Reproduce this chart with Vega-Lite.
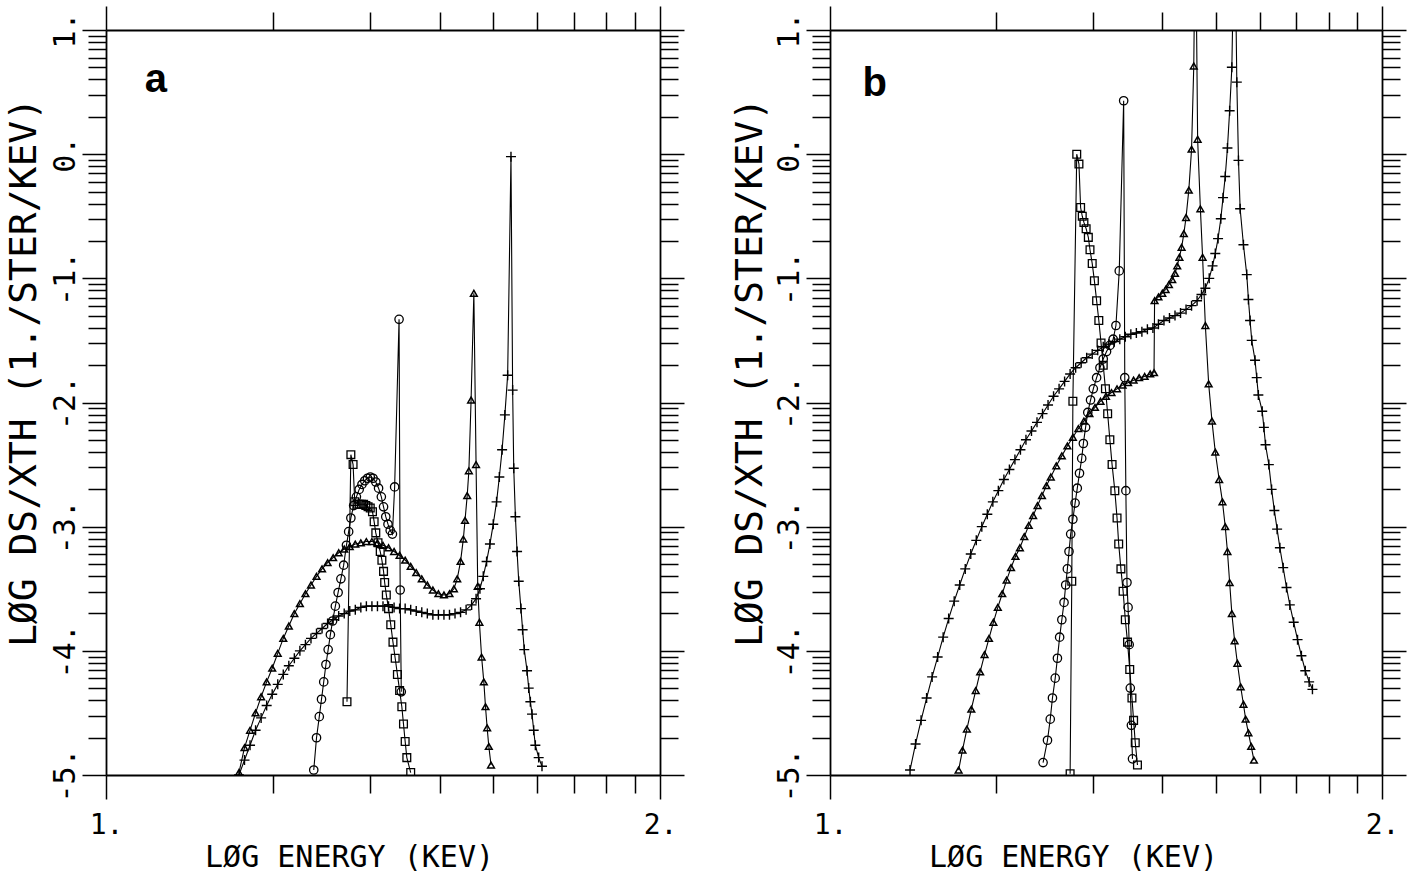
{
"$schema": "https://vega.github.io/schema/vega-lite/v6.json",
"padding": {"left": 4, "top": 5, "right": 0, "bottom": 0},
"spacing": 45,
"config": {
 "view": {"stroke": null},
 "axis": {"domainColor": "black", "tickColor": "black", "domainWidth": 1.8, "tickWidth": 1.5, "grid": false, "labelFont": "DejaVu Sans Mono", "labelFontSize": 28, "labelColor": "black", "titleFont": "DejaVu Sans Mono", "titleFontWeight": "normal", "titleColor": "black", "labelFlush": false, "labelOverlap": false}
},
"datasets": {
 "a": [
  {"s":"p","x":1.240,"y":-5.00},{"s":"p","x":1.250,"y":-4.88},{"s":"p","x":1.260,"y":-4.76},{"s":"p","x":1.270,"y":-4.64},{"s":"p","x":1.280,"y":-4.54},{"s":"p","x":1.290,"y":-4.44},{"s":"p","x":1.300,"y":-4.35},{"s":"p","x":1.310,"y":-4.27},{"s":"p","x":1.320,"y":-4.19},{"s":"p","x":1.330,"y":-4.12},{"s":"p","x":1.340,"y":-4.06},{"s":"p","x":1.350,"y":-4.00},{"s":"p","x":1.360,"y":-3.95},{"s":"p","x":1.370,"y":-3.90},{"s":"p","x":1.380,"y":-3.86},{"s":"p","x":1.390,"y":-3.82},{"s":"p","x":1.400,"y":-3.78},{"s":"p","x":1.410,"y":-3.75},{"s":"p","x":1.420,"y":-3.72},{"s":"p","x":1.430,"y":-3.70},{"s":"p","x":1.440,"y":-3.68},{"s":"p","x":1.450,"y":-3.67},{"s":"p","x":1.460,"y":-3.65},{"s":"p","x":1.470,"y":-3.64},{"s":"p","x":1.480,"y":-3.64},{"s":"p","x":1.490,"y":-3.64},{"s":"p","x":1.500,"y":-3.64},{"s":"p","x":1.510,"y":-3.64},{"s":"p","x":1.520,"y":-3.65},{"s":"p","x":1.530,"y":-3.66},{"s":"p","x":1.540,"y":-3.66},{"s":"p","x":1.550,"y":-3.67},{"s":"p","x":1.560,"y":-3.68},{"s":"p","x":1.570,"y":-3.69},{"s":"p","x":1.580,"y":-3.70},{"s":"p","x":1.590,"y":-3.71},{"s":"p","x":1.600,"y":-3.71},{"s":"p","x":1.610,"y":-3.71},{"s":"p","x":1.620,"y":-3.71},{"s":"p","x":1.630,"y":-3.70},{"s":"p","x":1.640,"y":-3.69},{"s":"p","x":1.650,"y":-3.67},{"s":"p","x":1.660,"y":-3.63},{"s":"p","x":1.668,"y":-3.58},{"s":"p","x":1.675,"y":-3.50},{"s":"p","x":1.681,"y":-3.40},{"s":"p","x":1.687,"y":-3.28},{"s":"p","x":1.693,"y":-3.14},{"s":"p","x":1.699,"y":-2.98},{"s":"p","x":1.705,"y":-2.80},{"s":"p","x":1.710,"y":-2.60},{"s":"p","x":1.715,"y":-2.38},{"s":"p","x":1.720,"y":-2.10},{"s":"p","x":1.725,"y":-1.78},{"s":"p","x":1.731,"y":-0.02},{"s":"p","x":1.734,"y":-1.90},{"s":"p","x":1.736,"y":-2.53},{"s":"p","x":1.739,"y":-2.92},{"s":"p","x":1.742,"y":-3.20},{"s":"p","x":1.745,"y":-3.44},{"s":"p","x":1.749,"y":-3.66},{"s":"p","x":1.752,"y":-3.83},{"s":"p","x":1.755,"y":-3.99},{"s":"p","x":1.760,"y":-4.16},{"s":"p","x":1.763,"y":-4.30},{"s":"p","x":1.766,"y":-4.41},{"s":"p","x":1.769,"y":-4.51},{"s":"p","x":1.772,"y":-4.64},{"s":"p","x":1.775,"y":-4.76},{"s":"p","x":1.781,"y":-4.86},{"s":"p","x":1.787,"y":-4.93},
  {"s":"t","x":1.240,"y":-4.98},{"s":"t","x":1.250,"y":-4.78},{"s":"t","x":1.260,"y":-4.64},{"s":"t","x":1.270,"y":-4.50},{"s":"t","x":1.280,"y":-4.37},{"s":"t","x":1.290,"y":-4.25},{"s":"t","x":1.300,"y":-4.14},{"s":"t","x":1.310,"y":-4.02},{"s":"t","x":1.320,"y":-3.90},{"s":"t","x":1.330,"y":-3.80},{"s":"t","x":1.340,"y":-3.70},{"s":"t","x":1.350,"y":-3.62},{"s":"t","x":1.360,"y":-3.54},{"s":"t","x":1.370,"y":-3.47},{"s":"t","x":1.380,"y":-3.40},{"s":"t","x":1.390,"y":-3.34},{"s":"t","x":1.400,"y":-3.29},{"s":"t","x":1.410,"y":-3.25},{"s":"t","x":1.420,"y":-3.21},{"s":"t","x":1.430,"y":-3.18},{"s":"t","x":1.440,"y":-3.16},{"s":"t","x":1.450,"y":-3.14},{"s":"t","x":1.460,"y":-3.13},{"s":"t","x":1.470,"y":-3.12},{"s":"t","x":1.480,"y":-3.12},{"s":"t","x":1.490,"y":-3.13},{"s":"t","x":1.500,"y":-3.15},{"s":"t","x":1.510,"y":-3.17},{"s":"t","x":1.520,"y":-3.20},{"s":"t","x":1.530,"y":-3.23},{"s":"t","x":1.540,"y":-3.27},{"s":"t","x":1.550,"y":-3.32},{"s":"t","x":1.560,"y":-3.37},{"s":"t","x":1.570,"y":-3.42},{"s":"t","x":1.580,"y":-3.47},{"s":"t","x":1.590,"y":-3.51},{"s":"t","x":1.600,"y":-3.54},{"s":"t","x":1.610,"y":-3.55},{"s":"t","x":1.620,"y":-3.54},{"s":"t","x":1.628,"y":-3.50},{"s":"t","x":1.634,"y":-3.42},{"s":"t","x":1.640,"y":-3.28},{"s":"t","x":1.645,"y":-3.10},{"s":"t","x":1.648,"y":-2.95},{"s":"t","x":1.652,"y":-2.75},{"s":"t","x":1.655,"y":-2.55},{"s":"t","x":1.659,"y":-1.98},{"s":"t","x":1.664,"y":-1.12},{"s":"t","x":1.668,"y":-2.50},{"s":"t","x":1.671,"y":-3.48},{"s":"t","x":1.674,"y":-3.77},{"s":"t","x":1.678,"y":-4.05},{"s":"t","x":1.682,"y":-4.25},{"s":"t","x":1.685,"y":-4.45},{"s":"t","x":1.688,"y":-4.62},{"s":"t","x":1.691,"y":-4.77},{"s":"t","x":1.695,"y":-4.92},
  {"s":"c","x":1.375,"y":-4.96},{"s":"c","x":1.380,"y":-4.70},{"s":"c","x":1.385,"y":-4.53},{"s":"c","x":1.389,"y":-4.39},{"s":"c","x":1.393,"y":-4.25},{"s":"c","x":1.397,"y":-4.11},{"s":"c","x":1.401,"y":-3.99},{"s":"c","x":1.405,"y":-3.87},{"s":"c","x":1.409,"y":-3.76},{"s":"c","x":1.414,"y":-3.64},{"s":"c","x":1.419,"y":-3.53},{"s":"c","x":1.424,"y":-3.42},{"s":"c","x":1.429,"y":-3.31},{"s":"c","x":1.434,"y":-3.15},{"s":"c","x":1.438,"y":-3.04},{"s":"c","x":1.442,"y":-2.93},{"s":"c","x":1.447,"y":-2.83},{"s":"c","x":1.452,"y":-2.76},{"s":"c","x":1.457,"y":-2.70},{"s":"c","x":1.462,"y":-2.66},{"s":"c","x":1.467,"y":-2.63},{"s":"c","x":1.472,"y":-2.61},{"s":"c","x":1.477,"y":-2.60},{"s":"c","x":1.482,"y":-2.61},{"s":"c","x":1.487,"y":-2.64},{"s":"c","x":1.492,"y":-2.69},{"s":"c","x":1.497,"y":-2.76},{"s":"c","x":1.501,"y":-2.84},{"s":"c","x":1.505,"y":-2.92},{"s":"c","x":1.509,"y":-2.98},{"s":"c","x":1.513,"y":-3.03},{"s":"c","x":1.517,"y":-3.06},{"s":"c","x":1.521,"y":-2.68},{"s":"c","x":1.529,"y":-1.33},{"s":"c","x":1.531,"y":-3.51},{"s":"c","x":1.533,"y":-4.33},
  {"s":"q","x":1.435,"y":-4.41},{"s":"q","x":1.442,"y":-2.42},{"s":"q","x":1.446,"y":-2.50},{"s":"q","x":1.449,"y":-2.80},{"s":"q","x":1.453,"y":-2.82},{"s":"q","x":1.457,"y":-2.82},{"s":"q","x":1.461,"y":-2.82},{"s":"q","x":1.465,"y":-2.82},{"s":"q","x":1.469,"y":-2.83},{"s":"q","x":1.473,"y":-2.84},{"s":"q","x":1.477,"y":-2.85},{"s":"q","x":1.481,"y":-2.88},{"s":"q","x":1.484,"y":-2.96},{"s":"q","x":1.487,"y":-3.05},{"s":"q","x":1.491,"y":-3.13},{"s":"q","x":1.495,"y":-3.20},{"s":"q","x":1.498,"y":-3.27},{"s":"q","x":1.501,"y":-3.36},{"s":"q","x":1.503,"y":-3.45},{"s":"q","x":1.506,"y":-3.55},{"s":"q","x":1.510,"y":-3.66},{"s":"q","x":1.514,"y":-3.79},{"s":"q","x":1.518,"y":-3.93},{"s":"q","x":1.522,"y":-4.06},{"s":"q","x":1.526,"y":-4.19},{"s":"q","x":1.530,"y":-4.32},{"s":"q","x":1.534,"y":-4.45},{"s":"q","x":1.537,"y":-4.59},{"s":"q","x":1.540,"y":-4.73},{"s":"q","x":1.543,"y":-4.86},{"s":"q","x":1.550,"y":-4.98}
 ],
 "b": [
  {"s":"p","x":1.145,"y":-4.96},{"s":"p","x":1.155,"y":-4.75},{"s":"p","x":1.165,"y":-4.56},{"s":"p","x":1.175,"y":-4.38},{"s":"p","x":1.185,"y":-4.21},{"s":"p","x":1.195,"y":-4.05},{"s":"p","x":1.205,"y":-3.89},{"s":"p","x":1.215,"y":-3.74},{"s":"p","x":1.225,"y":-3.60},{"s":"p","x":1.235,"y":-3.47},{"s":"p","x":1.245,"y":-3.34},{"s":"p","x":1.255,"y":-3.22},{"s":"p","x":1.265,"y":-3.11},{"s":"p","x":1.275,"y":-3.00},{"s":"p","x":1.285,"y":-2.90},{"s":"p","x":1.295,"y":-2.80},{"s":"p","x":1.305,"y":-2.71},{"s":"p","x":1.315,"y":-2.62},{"s":"p","x":1.325,"y":-2.54},{"s":"p","x":1.335,"y":-2.46},{"s":"p","x":1.345,"y":-2.38},{"s":"p","x":1.355,"y":-2.30},{"s":"p","x":1.365,"y":-2.23},{"s":"p","x":1.375,"y":-2.16},{"s":"p","x":1.385,"y":-2.09},{"s":"p","x":1.395,"y":-2.02},{"s":"p","x":1.405,"y":-1.95},{"s":"p","x":1.415,"y":-1.89},{"s":"p","x":1.425,"y":-1.83},{"s":"p","x":1.435,"y":-1.77},{"s":"p","x":1.445,"y":-1.72},{"s":"p","x":1.455,"y":-1.68},{"s":"p","x":1.465,"y":-1.64},{"s":"p","x":1.475,"y":-1.61},{"s":"p","x":1.485,"y":-1.58},{"s":"p","x":1.495,"y":-1.55},{"s":"p","x":1.505,"y":-1.53},{"s":"p","x":1.515,"y":-1.51},{"s":"p","x":1.525,"y":-1.49},{"s":"p","x":1.535,"y":-1.47},{"s":"p","x":1.545,"y":-1.45},{"s":"p","x":1.555,"y":-1.44},{"s":"p","x":1.565,"y":-1.43},{"s":"p","x":1.575,"y":-1.41},{"s":"p","x":1.585,"y":-1.40},{"s":"p","x":1.595,"y":-1.37},{"s":"p","x":1.605,"y":-1.34},{"s":"p","x":1.615,"y":-1.32},{"s":"p","x":1.625,"y":-1.30},{"s":"p","x":1.635,"y":-1.28},{"s":"p","x":1.645,"y":-1.25},{"s":"p","x":1.655,"y":-1.22},{"s":"p","x":1.665,"y":-1.18},{"s":"p","x":1.673,"y":-1.13},{"s":"p","x":1.680,"y":-1.08},{"s":"p","x":1.687,"y":-1.00},{"s":"p","x":1.693,"y":-0.90},{"s":"p","x":1.698,"y":-0.80},{"s":"p","x":1.703,"y":-0.68},{"s":"p","x":1.708,"y":-0.52},{"s":"p","x":1.712,"y":-0.35},{"s":"p","x":1.716,"y":-0.18},{"s":"p","x":1.720,"y":0.05},{"s":"p","x":1.724,"y":0.35},{"s":"p","x":1.728,"y":0.70},{"s":"p","x":1.733,"y":2.0},{"s":"p","x":1.737,"y":0.58},{"s":"p","x":1.740,"y":-0.05},{"s":"p","x":1.743,"y":-0.44},{"s":"p","x":1.749,"y":-0.73},{"s":"p","x":1.755,"y":-0.97},{"s":"p","x":1.758,"y":-1.17},{"s":"p","x":1.761,"y":-1.34},{"s":"p","x":1.764,"y":-1.50},{"s":"p","x":1.770,"y":-1.66},{"s":"p","x":1.773,"y":-1.80},{"s":"p","x":1.776,"y":-1.94},{"s":"p","x":1.783,"y":-2.07},{"s":"p","x":1.786,"y":-2.20},{"s":"p","x":1.789,"y":-2.34},{"s":"p","x":1.795,"y":-2.50},{"s":"p","x":1.800,"y":-2.70},{"s":"p","x":1.805,"y":-2.87},{"s":"p","x":1.810,"y":-3.02},{"s":"p","x":1.815,"y":-3.17},{"s":"p","x":1.821,"y":-3.33},{"s":"p","x":1.827,"y":-3.49},{"s":"p","x":1.833,"y":-3.63},{"s":"p","x":1.840,"y":-3.77},{"s":"p","x":1.847,"y":-3.91},{"s":"p","x":1.854,"y":-4.04},{"s":"p","x":1.861,"y":-4.16},{"s":"p","x":1.868,"y":-4.25},{"s":"p","x":1.874,"y":-4.31},
  {"s":"t","x":1.233,"y":-4.96},{"s":"t","x":1.240,"y":-4.80},{"s":"t","x":1.248,"y":-4.63},{"s":"t","x":1.256,"y":-4.47},{"s":"t","x":1.264,"y":-4.32},{"s":"t","x":1.272,"y":-4.17},{"s":"t","x":1.280,"y":-4.03},{"s":"t","x":1.288,"y":-3.90},{"s":"t","x":1.296,"y":-3.77},{"s":"t","x":1.304,"y":-3.65},{"s":"t","x":1.312,"y":-3.54},{"s":"t","x":1.320,"y":-3.43},{"s":"t","x":1.328,"y":-3.33},{"s":"t","x":1.336,"y":-3.24},{"s":"t","x":1.344,"y":-3.17},{"s":"t","x":1.352,"y":-3.08},{"s":"t","x":1.360,"y":-2.99},{"s":"t","x":1.368,"y":-2.91},{"s":"t","x":1.376,"y":-2.83},{"s":"t","x":1.384,"y":-2.75},{"s":"t","x":1.392,"y":-2.67},{"s":"t","x":1.400,"y":-2.60},{"s":"t","x":1.410,"y":-2.51},{"s":"t","x":1.420,"y":-2.43},{"s":"t","x":1.430,"y":-2.35},{"s":"t","x":1.440,"y":-2.28},{"s":"t","x":1.450,"y":-2.21},{"s":"t","x":1.460,"y":-2.15},{"s":"t","x":1.470,"y":-2.09},{"s":"t","x":1.480,"y":-2.04},{"s":"t","x":1.490,"y":-1.99},{"s":"t","x":1.500,"y":-1.95},{"s":"t","x":1.510,"y":-1.92},{"s":"t","x":1.520,"y":-1.89},{"s":"t","x":1.530,"y":-1.86},{"s":"t","x":1.540,"y":-1.84},{"s":"t","x":1.550,"y":-1.82},{"s":"t","x":1.560,"y":-1.80},{"s":"t","x":1.570,"y":-1.79},{"s":"t","x":1.580,"y":-1.77},{"s":"t","x":1.587,"y":-1.76},{"s":"t","x":1.588,"y":-1.18},{"s":"t","x":1.595,"y":-1.15},{"s":"t","x":1.602,"y":-1.12},{"s":"t","x":1.608,"y":-1.09},{"s":"t","x":1.614,"y":-1.05},{"s":"t","x":1.620,"y":-1.01},{"s":"t","x":1.625,"y":-0.96},{"s":"t","x":1.629,"y":-0.90},{"s":"t","x":1.633,"y":-0.83},{"s":"t","x":1.637,"y":-0.75},{"s":"t","x":1.641,"y":-0.64},{"s":"t","x":1.645,"y":-0.51},{"s":"t","x":1.650,"y":-0.29},{"s":"t","x":1.655,"y":0.04},{"s":"t","x":1.659,"y":0.71},{"s":"t","x":1.662,"y":2.0},{"s":"t","x":1.666,"y":0.12},{"s":"t","x":1.671,"y":-0.44},{"s":"t","x":1.675,"y":-0.83},{"s":"t","x":1.680,"y":-1.38},{"s":"t","x":1.686,"y":-1.85},{"s":"t","x":1.692,"y":-2.15},{"s":"t","x":1.698,"y":-2.40},{"s":"t","x":1.705,"y":-2.62},{"s":"t","x":1.711,"y":-2.80},{"s":"t","x":1.716,"y":-3.00},{"s":"t","x":1.720,"y":-3.20},{"s":"t","x":1.724,"y":-3.45},{"s":"t","x":1.728,"y":-3.70},{"s":"t","x":1.733,"y":-3.92},{"s":"t","x":1.738,"y":-4.10},{"s":"t","x":1.744,"y":-4.29},{"s":"t","x":1.749,"y":-4.43},{"s":"t","x":1.753,"y":-4.55},{"s":"t","x":1.758,"y":-4.66},{"s":"t","x":1.763,"y":-4.77},{"s":"t","x":1.768,"y":-4.88},
  {"s":"c","x":1.386,"y":-4.90},{"s":"c","x":1.394,"y":-4.72},{"s":"c","x":1.399,"y":-4.55},{"s":"c","x":1.403,"y":-4.38},{"s":"c","x":1.408,"y":-4.22},{"s":"c","x":1.412,"y":-4.06},{"s":"c","x":1.416,"y":-3.89},{"s":"c","x":1.420,"y":-3.75},{"s":"c","x":1.424,"y":-3.61},{"s":"c","x":1.427,"y":-3.47},{"s":"c","x":1.430,"y":-3.34},{"s":"c","x":1.433,"y":-3.20},{"s":"c","x":1.436,"y":-3.06},{"s":"c","x":1.440,"y":-2.94},{"s":"c","x":1.444,"y":-2.81},{"s":"c","x":1.448,"y":-2.69},{"s":"c","x":1.452,"y":-2.57},{"s":"c","x":1.456,"y":-2.45},{"s":"c","x":1.459,"y":-2.33},{"s":"c","x":1.463,"y":-2.20},{"s":"c","x":1.467,"y":-2.08},{"s":"c","x":1.472,"y":-1.98},{"s":"c","x":1.477,"y":-1.89},{"s":"c","x":1.483,"y":-1.80},{"s":"c","x":1.489,"y":-1.72},{"s":"c","x":1.495,"y":-1.65},{"s":"c","x":1.501,"y":-1.59},{"s":"c","x":1.507,"y":-1.54},{"s":"c","x":1.513,"y":-1.49},{"s":"c","x":1.518,"y":-1.38},{"s":"c","x":1.524,"y":-0.94},{"s":"c","x":1.532,"y":0.43},{"s":"c","x":1.534,"y":-1.80},{"s":"c","x":1.536,"y":-2.71},{"s":"c","x":1.538,"y":-3.45},{"s":"c","x":1.540,"y":-3.65},{"s":"c","x":1.542,"y":-3.95},{"s":"c","x":1.544,"y":-4.30},{"s":"c","x":1.546,"y":-4.60},{"s":"c","x":1.548,"y":-4.87},
  {"s":"q","x":1.435,"y":-4.99},{"s":"q","x":1.438,"y":-3.44},{"s":"q","x":1.440,"y":-1.99},{"s":"q","x":1.447,"y":0.00},{"s":"q","x":1.451,"y":-0.08},{"s":"q","x":1.454,"y":-0.43},{"s":"q","x":1.457,"y":-0.50},{"s":"q","x":1.460,"y":-0.55},{"s":"q","x":1.464,"y":-0.60},{"s":"q","x":1.468,"y":-0.67},{"s":"q","x":1.471,"y":-0.77},{"s":"q","x":1.475,"y":-0.88},{"s":"q","x":1.479,"y":-1.02},{"s":"q","x":1.483,"y":-1.18},{"s":"q","x":1.487,"y":-1.34},{"s":"q","x":1.491,"y":-1.52},{"s":"q","x":1.495,"y":-1.70},{"s":"q","x":1.499,"y":-1.89},{"s":"q","x":1.503,"y":-2.09},{"s":"q","x":1.507,"y":-2.30},{"s":"q","x":1.511,"y":-2.50},{"s":"q","x":1.516,"y":-2.71},{"s":"q","x":1.520,"y":-2.93},{"s":"q","x":1.523,"y":-3.14},{"s":"q","x":1.527,"y":-3.34},{"s":"q","x":1.531,"y":-3.52},{"s":"q","x":1.535,"y":-3.75},{"s":"q","x":1.539,"y":-3.93},{"s":"q","x":1.543,"y":-4.15},{"s":"q","x":1.547,"y":-4.38},{"s":"q","x":1.550,"y":-4.56},{"s":"q","x":1.553,"y":-4.74},{"s":"q","x":1.557,"y":-4.92}
 ]
},
"hconcat": [
 {
  "width": 554, "height": 745,
  "data": {"name": "a"},
  "resolve": {"axis": {"x": "independent", "y": "independent"}},
  "layer": [
   {
    "encoding": {
     "x": {"field": "x", "type": "quantitative", "scale": {"domain": [1, 2], "nice": false, "zero": false}, "axis": null},
     "y": {"field": "y", "type": "quantitative", "scale": {"domain": [-5, 1], "nice": false, "zero": false}, "axis": null}
    },
    "layer": [
     {"mark": {"type": "line", "color": "black", "strokeWidth": 1.1, "clip": true}, "encoding": {"detail": {"field": "s"}}},
     {"transform": [{"filter": "datum.s == 'p'"}], "mark": {"type": "point", "shape": "M-1,0H1M0,-1V1", "size": 100, "stroke": "black", "strokeWidth": 1.4, "filled": false, "opacity": 1, "clip": true}},
     {"transform": [{"filter": "datum.s == 't'"}], "mark": {"type": "point", "shape": "triangle-up", "size": 45, "stroke": "black", "strokeWidth": 1.5, "filled": false, "opacity": 1, "clip": true}},
     {"transform": [{"filter": "datum.s == 'c'"}], "mark": {"type": "point", "shape": "circle", "size": 70, "stroke": "black", "strokeWidth": 1.3, "filled": false, "opacity": 1, "clip": true}},
     {"transform": [{"filter": "datum.s == 'q'"}], "mark": {"type": "point", "shape": "square", "size": 60, "stroke": "black", "strokeWidth": 1.3, "filled": false, "opacity": 1, "clip": true}}
    ]
   },
   {"data": {"values": [{}]}, "mark": {"type": "text", "text": "a", "font": "Liberation Sans", "fontWeight": "bold", "fontSize": 40, "align": "center", "baseline": "alphabetic", "color": "black"},
    "encoding": {"x": {"datum": 1.09, "type": "quantitative", "scale": {"domain": [1, 2], "nice": false, "zero": false}, "axis": null}, "y": {"datum": 0.5, "type": "quantitative", "scale": {"domain": [-5, 1], "nice": false, "zero": false}, "axis": null}}},
   {"mark": {"type": "point", "opacity": 0, "clip": true},
    "encoding": {
     "x": {"field": "x", "type": "quantitative", "scale": {"domain": [1, 2], "nice": false, "zero": false}, "axis": {"orient": "bottom", "values": [1, 2], "tickSize": 24, "labelExpr": "datum.value + '.'", "labelPadding": 12, "labelBaseline": "top", "labelAlign": "center", "title": "LØG ENERGY (KEV)", "titleFontSize": 30, "titleX": 243, "titlePadding": 3, "titleAlign": "center", "domain": true}},
     "y": {"field": "y", "type": "quantitative", "scale": {"domain": [-5, 1], "nice": false, "zero": false}, "axis": {"orient": "left", "values": [-5, -4, -3, -2, -1, 0, 1], "tickSize": 24, "labelExpr": "datum.value + '.'", "labelFontSize": 30, "labelAngle": 270, "labelAlign": "center", "labelBaseline": "alphabetic", "labelPadding": 8, "title": "LØG DS/XTH (1./STER/KEV)", "titleFontSize": 38, "titleAngle": 270, "titleX": -71, "titleY": 342, "titleAlign": "center", "titleBaseline": "alphabetic", "domain": true}}
    }},
   {"mark": {"type": "point", "opacity": 0, "clip": true},
    "encoding": {
     "x": {"field": "x", "type": "quantitative", "scale": {"domain": [1, 2], "nice": false, "zero": false}, "axis": {"orient": "bottom", "values": [1.30103, 1.47712, 1.60206, 1.69897, 1.77815, 1.8451, 1.90309, 1.95424], "tickSize": 18, "labels": false, "domain": false, "title": null}},
     "y": {"field": "y", "type": "quantitative", "scale": {"domain": [-5, 1], "nice": false, "zero": false}, "axis": {"orient": "left", "values": [-4.69897, -4.52288, -4.39794, -4.30103, -4.22185, -4.1549, -4.09691, -4.04576, -3.69897, -3.52288, -3.39794, -3.30103, -3.22185, -3.1549, -3.09691, -3.04576, -2.69897, -2.52288, -2.39794, -2.30103, -2.22185, -2.1549, -2.09691, -2.04576, -1.69897, -1.52288, -1.39794, -1.30103, -1.22185, -1.1549, -1.09691, -1.04576, -0.69897, -0.52288, -0.39794, -0.30103, -0.22185, -0.1549, -0.09691, -0.04576, 0.30103, 0.47712, 0.60206, 0.69897, 0.77815, 0.8451, 0.90309, 0.95424], "tickSize": 18, "labels": false, "domain": false, "title": null}}
    }},
   {"mark": {"type": "point", "opacity": 0, "clip": true},
    "encoding": {
     "x": {"field": "x", "type": "quantitative", "scale": {"domain": [1, 2], "nice": false, "zero": false}, "axis": {"orient": "top", "values": [1, 2], "tickSize": 24, "labels": false, "domain": true, "title": null}},
     "y": {"field": "y", "type": "quantitative", "scale": {"domain": [-5, 1], "nice": false, "zero": false}, "axis": {"orient": "right", "values": [-5, -4, -3, -2, -1, 0, 1], "tickSize": 24, "labels": false, "domain": true, "title": null}}
    }},
   {"mark": {"type": "point", "opacity": 0, "clip": true},
    "encoding": {
     "x": {"field": "x", "type": "quantitative", "scale": {"domain": [1, 2], "nice": false, "zero": false}, "axis": {"orient": "top", "values": [1.30103, 1.47712, 1.60206, 1.69897, 1.77815, 1.8451, 1.90309, 1.95424], "tickSize": 18, "labels": false, "domain": false, "title": null}},
     "y": {"field": "y", "type": "quantitative", "scale": {"domain": [-5, 1], "nice": false, "zero": false}, "axis": {"orient": "right", "values": [-4.69897, -4.52288, -4.39794, -4.30103, -4.22185, -4.1549, -4.09691, -4.04576, -3.69897, -3.52288, -3.39794, -3.30103, -3.22185, -3.1549, -3.09691, -3.04576, -2.69897, -2.52288, -2.39794, -2.30103, -2.22185, -2.1549, -2.09691, -2.04576, -1.69897, -1.52288, -1.39794, -1.30103, -1.22185, -1.1549, -1.09691, -1.04576, -0.69897, -0.52288, -0.39794, -0.30103, -0.22185, -0.1549, -0.09691, -0.04576, 0.30103, 0.47712, 0.60206, 0.69897, 0.77815, 0.8451, 0.90309, 0.95424], "tickSize": 18, "labels": false, "domain": false, "title": null}}
    }}
  ]
 },
 {
  "width": 552, "height": 745,
  "data": {"name": "b"},
  "resolve": {"axis": {"x": "independent", "y": "independent"}},
  "layer": [
   {
    "encoding": {
     "x": {"field": "x", "type": "quantitative", "scale": {"domain": [1, 2], "nice": false, "zero": false}, "axis": null},
     "y": {"field": "y", "type": "quantitative", "scale": {"domain": [-5, 1], "nice": false, "zero": false}, "axis": null}
    },
    "layer": [
     {"mark": {"type": "line", "color": "black", "strokeWidth": 1.1, "clip": true}, "encoding": {"detail": {"field": "s"}}},
     {"transform": [{"filter": "datum.s == 'p'"}], "mark": {"type": "point", "shape": "M-1,0H1M0,-1V1", "size": 100, "stroke": "black", "strokeWidth": 1.4, "filled": false, "opacity": 1, "clip": true}},
     {"transform": [{"filter": "datum.s == 't'"}], "mark": {"type": "point", "shape": "triangle-up", "size": 45, "stroke": "black", "strokeWidth": 1.5, "filled": false, "opacity": 1, "clip": true}},
     {"transform": [{"filter": "datum.s == 'c'"}], "mark": {"type": "point", "shape": "circle", "size": 70, "stroke": "black", "strokeWidth": 1.3, "filled": false, "opacity": 1, "clip": true}},
     {"transform": [{"filter": "datum.s == 'q'"}], "mark": {"type": "point", "shape": "square", "size": 60, "stroke": "black", "strokeWidth": 1.3, "filled": false, "opacity": 1, "clip": true}}
    ]
   },
   {"data": {"values": [{}]}, "mark": {"type": "text", "text": "b", "font": "Liberation Sans", "fontWeight": "bold", "fontSize": 40, "align": "center", "baseline": "alphabetic", "color": "black"},
    "encoding": {"x": {"datum": 1.081, "type": "quantitative", "scale": {"domain": [1, 2], "nice": false, "zero": false}, "axis": null}, "y": {"datum": 0.47, "type": "quantitative", "scale": {"domain": [-5, 1], "nice": false, "zero": false}, "axis": null}}},
   {"mark": {"type": "point", "opacity": 0, "clip": true},
    "encoding": {
     "x": {"field": "x", "type": "quantitative", "scale": {"domain": [1, 2], "nice": false, "zero": false}, "axis": {"orient": "bottom", "values": [1, 2], "tickSize": 24, "labelExpr": "datum.value + '.'", "labelPadding": 12, "labelBaseline": "top", "labelAlign": "center", "title": "LØG ENERGY (KEV)", "titleFontSize": 30, "titleX": 243, "titlePadding": 3, "titleAlign": "center", "domain": true}},
     "y": {"field": "y", "type": "quantitative", "scale": {"domain": [-5, 1], "nice": false, "zero": false}, "axis": {"orient": "left", "values": [-5, -4, -3, -2, -1, 0, 1], "tickSize": 24, "labelExpr": "datum.value + '.'", "labelFontSize": 30, "labelAngle": 270, "labelAlign": "center", "labelBaseline": "alphabetic", "labelPadding": 8, "title": "LØG DS/XTH (1./STER/KEV)", "titleFontSize": 38, "titleAngle": 270, "titleX": -69, "titleY": 342, "titleAlign": "center", "titleBaseline": "alphabetic", "domain": true}}
    }},
   {"mark": {"type": "point", "opacity": 0, "clip": true},
    "encoding": {
     "x": {"field": "x", "type": "quantitative", "scale": {"domain": [1, 2], "nice": false, "zero": false}, "axis": {"orient": "bottom", "values": [1.30103, 1.47712, 1.60206, 1.69897, 1.77815, 1.8451, 1.90309, 1.95424], "tickSize": 18, "labels": false, "domain": false, "title": null}},
     "y": {"field": "y", "type": "quantitative", "scale": {"domain": [-5, 1], "nice": false, "zero": false}, "axis": {"orient": "left", "values": [-4.69897, -4.52288, -4.39794, -4.30103, -4.22185, -4.1549, -4.09691, -4.04576, -3.69897, -3.52288, -3.39794, -3.30103, -3.22185, -3.1549, -3.09691, -3.04576, -2.69897, -2.52288, -2.39794, -2.30103, -2.22185, -2.1549, -2.09691, -2.04576, -1.69897, -1.52288, -1.39794, -1.30103, -1.22185, -1.1549, -1.09691, -1.04576, -0.69897, -0.52288, -0.39794, -0.30103, -0.22185, -0.1549, -0.09691, -0.04576, 0.30103, 0.47712, 0.60206, 0.69897, 0.77815, 0.8451, 0.90309, 0.95424], "tickSize": 18, "labels": false, "domain": false, "title": null}}
    }},
   {"mark": {"type": "point", "opacity": 0, "clip": true},
    "encoding": {
     "x": {"field": "x", "type": "quantitative", "scale": {"domain": [1, 2], "nice": false, "zero": false}, "axis": {"orient": "top", "values": [1, 2], "tickSize": 24, "labels": false, "domain": true, "title": null}},
     "y": {"field": "y", "type": "quantitative", "scale": {"domain": [-5, 1], "nice": false, "zero": false}, "axis": {"orient": "right", "values": [-5, -4, -3, -2, -1, 0, 1], "tickSize": 24, "labels": false, "domain": true, "title": null}}
    }},
   {"mark": {"type": "point", "opacity": 0, "clip": true},
    "encoding": {
     "x": {"field": "x", "type": "quantitative", "scale": {"domain": [1, 2], "nice": false, "zero": false}, "axis": {"orient": "top", "values": [1.30103, 1.47712, 1.60206, 1.69897, 1.77815, 1.8451, 1.90309, 1.95424], "tickSize": 18, "labels": false, "domain": false, "title": null}},
     "y": {"field": "y", "type": "quantitative", "scale": {"domain": [-5, 1], "nice": false, "zero": false}, "axis": {"orient": "right", "values": [-4.69897, -4.52288, -4.39794, -4.30103, -4.22185, -4.1549, -4.09691, -4.04576, -3.69897, -3.52288, -3.39794, -3.30103, -3.22185, -3.1549, -3.09691, -3.04576, -2.69897, -2.52288, -2.39794, -2.30103, -2.22185, -2.1549, -2.09691, -2.04576, -1.69897, -1.52288, -1.39794, -1.30103, -1.22185, -1.1549, -1.09691, -1.04576, -0.69897, -0.52288, -0.39794, -0.30103, -0.22185, -0.1549, -0.09691, -0.04576, 0.30103, 0.47712, 0.60206, 0.69897, 0.77815, 0.8451, 0.90309, 0.95424], "tickSize": 18, "labels": false, "domain": false, "title": null}}
    }}
  ]
 }
]
}
